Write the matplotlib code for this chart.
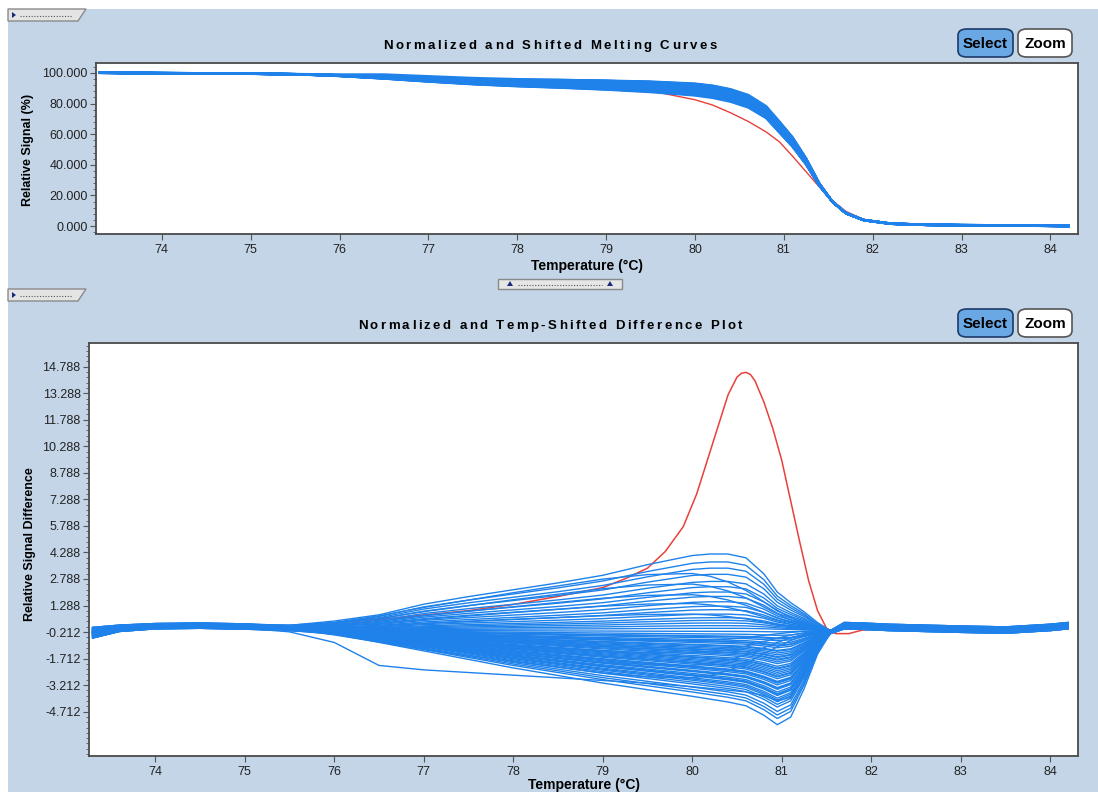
import numpy as np
import matplotlib
matplotlib.use("Agg")
import matplotlib.pyplot as plt
from matplotlib.patches import Rectangle, FancyBboxPatch, Polygon
from matplotlib.lines import Line2D
from matplotlib.ticker import FixedLocator, AutoMinorLocator, FormatStrFormatter
from matplotlib import font_manager as fm
from matplotlib.ft2font import FT2Font

# ---------------- data ----------------
temps = [73.3, 73.6, 74.0, 74.5, 75.0, 75.5, 76.0, 76.5, 77.0, 77.5, 78.0, 78.5,
         79.0, 79.5, 80.0, 80.2, 80.4, 80.6, 80.8, 80.95, 81.1, 81.25, 81.4,
         81.55, 81.7, 81.9, 82.2, 82.6, 83.0, 83.5, 84.0, 84.2]

# reference melting curve (top panel), % signal
base_melt = [100, 100, 100, 99.9, 99.6, 99.2, 98.3, 97.0, 95.6, 94.3, 93.4, 92.8,
             92.0, 91.0, 89.3, 87.8, 85.3, 81.3, 73.5, 63.0, 53.0, 41.0, 26.5,
             15.5, 8.5, 4.0, 1.6, 0.8, 0.5, 0.3, 0.2, 0.2]

# common difference baseline
diff_baseline = [-0.25, 0.0, 0.12, 0.15, 0.1, 0.02, -0.05, -0.1, -0.1, -0.1, -0.1, -0.1,
                 -0.1, -0.1, -0.1, -0.1, -0.1, -0.1, -0.1, -0.1, -0.1, -0.1, -0.12,
                 -0.2, 0.15, 0.12, 0.05, 0.0, -0.05, -0.1, 0.05, 0.15]

# normalised difference profiles (extreme = 1)
profile_up = [0, 0, 0, 0, 0, 0.02, 0.1, 0.2, 0.34, 0.44, 0.53, 0.62,
              0.72, 0.86, 0.98, 1.0, 1.0, 0.95, 0.74, 0.5, 0.36, 0.24, 0.1,
              0.0, 0, 0, 0, 0, 0, 0, 0, 0]
profile_down = [0, 0, 0, 0, 0, 0.01, 0.05, 0.13, 0.22, 0.31, 0.4, 0.48,
                0.56, 0.63, 0.7, 0.73, 0.76, 0.8, 0.9, 1.0, 0.92, 0.62, 0.25,
                0.0, 0, 0, 0, 0, 0, 0, 0, 0]
profile_early = [0, 0, 0, 0, 0, 0.02, 0.12, 0.25, 0.4, 0.53, 0.66, 0.78,
                 0.9, 0.98, 1.0, 0.95, 0.85, 0.7, 0.5, 0.35, 0.22, 0.12, 0.05,
                 0.0, 0, 0, 0, 0, 0, 0, 0, 0]
edge_weight = [1.0, 0.6, 0.5, 0.5, 0.5, 0.4, 0.2, 0, 0, 0, 0, 0,
               0, 0, 0, 0, 0, 0, 0, 0, 0, 0, 0.1,
               0.3, 0.6, 0.6, 0.6, 0.6, 0.6, 0.6, 0.6, 0.6]

# per-sample extreme difference values (peak for positive, trough for negative)
sample_peaks = [4.3, 3.85, 3.5, 3.15, 2.75, 2.45, 2.15, 1.9, 1.6, 1.35,
                1.15, 0.9, 0.7, 0.55, 0.4, 0.25, 0.1,
                -0.1, -0.3, -0.45, -0.6, -0.75, -0.9, -1.0, -1.15, -1.3, -1.4,
                -1.55, -1.65, -1.8, -1.9, -2.05, -2.15, -2.3, -2.4, -2.5, -2.65,
                -2.75, -2.9, -3.0, -3.1, -3.25, -3.35, -3.5, -3.6, -3.7, -3.85,
                -3.95, -4.05, -4.2, -4.35, -4.6, -4.8, -5.0, -5.35,
                -1.2, -1.7, -2.2, -2.6, -2.95, -3.3, -3.65, -0.5, -0.85, -1.5]
sample_edge_offsets = [0.15, -0.2, 0.05, 0.25, -0.1, 0.0, -0.3, 0.1, 0.2, -0.05,
                       -0.15, 0.3, 0.05, -0.25, 0.1, -0.1, 0.2, 0.0, -0.2, 0.15,
                       -0.05, 0.25, -0.3, 0.1, 0.05, -0.15, 0.2, -0.1, 0.0, 0.3,
                       -0.2, 0.1, -0.05, 0.15, -0.25, 0.05, 0.2, -0.1, 0.25, -0.3,
                       0.0, 0.1, -0.15, 0.2, -0.05, 0.3, -0.2, 0.05, 0.15, -0.1,
                       0.0, -0.25, 0.1, 0.2, -0.05, 0.1, -0.2, 0.25, -0.1, 0.05,
                       -0.3, 0.15, 0.0, -0.15, 0.2]
# samples whose difference peaks early (~79.8 C)
early_peaks = [3.2, 2.6, 2.0, 1.5, 0.9, -0.6, -1.3, -2.0, -2.7]

# one atypical blue sample
outlier_diff = [-0.1, 0.05, 0.15, 0.1, 0.0, -0.2, -0.8, -2.1, -2.35, -2.5, -2.65, -2.8,
                -2.95, -3.1, -3.3, -3.4, -3.5, -3.6, -3.8, -4.1, -3.9, -2.6, -1.0,
                -0.2, 0.15, 0.1, 0.0, 0.0, -0.05, -0.1, 0.05, 0.15]

# highlighted (red) sample
red_temps = [73.3, 74.0, 75.0, 75.5, 76.0, 76.5, 77.0, 77.5, 78.0, 78.5, 79.0, 79.25,
             79.5, 79.7, 79.9, 80.05, 80.2, 80.3, 80.4, 80.5, 80.55, 80.6, 80.65,
             80.7, 80.8, 80.9, 81.0, 81.1, 81.2, 81.3, 81.4, 81.5, 81.6, 81.75,
             81.9, 82.2, 83.0, 84.2]
red_diff = [-0.2, 0.1, 0.05, 0.1, 0.3, 0.5, 0.75, 1.0, 1.35, 1.8, 2.3, 2.8,
            3.4, 4.35, 5.75, 7.6, 10.0, 11.6, 13.2, 14.2, 14.42, 14.47, 14.35,
            14.0, 12.8, 11.3, 9.5, 7.2, 4.9, 2.7, 1.0, 0.0, -0.3, -0.3,
            -0.1, 0.0, 0.0, 0.0]
red_melt = [100, 100, 100, 99.9, 99.6, 99.1, 98.0, 96.4, 94.7, 93.0, 91.8, 90.8,
            89.9, 88.3, 82.5, 79.0, 74.0, 68.3, 61.5, 55.0, 45.5, 35.5, 25.5,
            16.5, 9.5, 4.3, 1.7, 0.8, 0.5, 0.3, 0.2, 0.2]

x_ticks = [74, 75, 76, 77, 78, 79, 80, 81, 82, 83, 84]
top_y_ticks = [0, 20, 40, 60, 80, 100]
bottom_y_ticks = [-4.712, -3.212, -1.712, -0.212, 1.288, 2.788, 4.288, 5.788,
                  7.288, 8.788, 10.288, 11.788, 13.288, 14.788]

# ---------------- styling ----------------
W, H, DPI = 1098, 792, 100
BG = "#C3D5E7"
BLUE = "#1f82ea"
RED = "#e8403a"
FONT = "Liberation Sans"

plt.rcParams["font.family"] = [FONT, "DejaVu Sans"]

fig = plt.figure(figsize=(W / DPI, H / DPI), dpi=DPI, facecolor="white")


def fx(x):
    return x / W


def fy(y):
    return 1 - y / H


fig.add_artist(Rectangle((fx(8), 0), 1 - fx(8), fy(9), transform=fig.transFigure,
                         facecolor=BG, edgecolor="none", zorder=-10))


def spaced_text(xc, y, s, size, target_w, weight="bold"):
    prop = fm.FontProperties(family=FONT, weight=weight, size=size)
    f = FT2Font(fm.findfont(prop))
    f.set_size(size, DPI)
    adv = [f.load_char(ord(ch)).linearHoriAdvance / 65536.0 for ch in s]
    sp = (target_w - sum(adv)) / (len(s) - 1)
    x = xc - target_w / 2
    for ch, a in zip(s, adv):
        if ch != " ":
            fig.text(fx(x), fy(y), ch, ha="left", va="center", fontproperties=prop,
                     color="black")
        x += a + sp


def button(x0, x1, y0, y1, label, face, edge):
    fig.add_artist(FancyBboxPatch((fx(x0), fy(y1)), fx(x1) - fx(x0), fy(y0) - fy(y1),
                                  boxstyle="round,pad=0,rounding_size=0.008",
                                  transform=fig.transFigure, facecolor=face,
                                  edgecolor=edge, linewidth=1.2, zorder=5))
    fig.text(fx((x0 + x1) / 2), fy((y0 + y1) / 2 + 1), label, ha="center", va="center",
             fontsize=11, fontweight="bold", color="black", zorder=6)


def tab(y0, y1):
    fig.add_artist(Polygon([(fx(8), fy(y0)), (fx(86), fy(y0)), (fx(78), fy(y1)),
                            (fx(8), fy(y1))], closed=True, transform=fig.transFigure,
                           facecolor="#E4E4E4", edgecolor="#8a8a8a", linewidth=1.0))
    ym = (y0 + y1) / 2
    fig.add_artist(Polygon([(fx(12), fy(ym - 3)), (fx(12), fy(ym + 3)), (fx(16), fy(ym))],
                           closed=True, transform=fig.transFigure, facecolor="#1a2a7a",
                           edgecolor="none"))
    fig.add_artist(Line2D([fx(20), fx(72)], [fy(ym + 1), fy(ym + 1)],
                          transform=fig.transFigure, color="#555555", linewidth=0.8,
                          linestyle=(0, (1, 1.5))))


def slider(x0, x1, y0, y1):
    fig.add_artist(Rectangle((fx(x0), fy(y1)), fx(x1) - fx(x0), fy(y0) - fy(y1),
                             transform=fig.transFigure, facecolor="#E6E6E6",
                             edgecolor="#8a8a8a", linewidth=1.0))
    ym = (y0 + y1) / 2
    for xt in (x0 + 12, x1 - 12):
        fig.add_artist(Polygon([(fx(xt - 3), fy(ym + 2)), (fx(xt + 3), fy(ym + 2)),
                                (fx(xt), fy(ym - 3))], closed=True,
                               transform=fig.transFigure, facecolor="#1a2a7a",
                               edgecolor="none"))
    fig.add_artist(Line2D([fx(x0 + 20), fx(x1 - 20)], [fy(ym + 1), fy(ym + 1)],
                          transform=fig.transFigure, color="#555555", linewidth=0.8,
                          linestyle=(0, (1, 1.5))))


def style_axes(ax):
    ax.set_facecolor("white")
    for s in ax.spines.values():
        s.set_color("#4a4a4a")
        s.set_linewidth(1.3)
    ax.tick_params(axis="both", which="major", direction="out", length=4, width=0.8,
                   color="#555555", labelsize=9, labelcolor="#222222", pad=2)
    ax.tick_params(axis="y", which="minor", direction="out", length=2, width=0.6,
                   color="#555555")
    ax.tick_params(axis="x", which="major", pad=3)
    ax.set_xlim(73.26, 84.31)
    ax.xaxis.set_major_locator(FixedLocator(x_ticks))
    ax.yaxis.set_minor_locator(AutoMinorLocator(5))
    ax.yaxis.set_major_formatter(FormatStrFormatter("%.3f"))


T = np.array(temps)
base = np.array(base_melt)
bl = np.array(diff_baseline)
up = np.array(profile_up)
down = np.array(profile_down)
early = np.array(profile_early)
ew = np.array(edge_weight)

# ---------------- top panel ----------------
ax1 = fig.add_axes([fx(96), fy(234), fx(1078) - fx(96), fy(63) - fy(234)])
style_axes(ax1)
ax1.set_ylim(-5.2, 106.5)
ax1.yaxis.set_major_locator(FixedLocator(top_y_ticks))

# ---------------- bottom panel ----------------
ax2 = fig.add_axes([fx(89), fy(756), fx(1078) - fx(89), fy(343) - fy(756)])
style_axes(ax2)
ax2.set_ylim(-7.22, 16.13)
ax2.yaxis.set_major_locator(FixedLocator(bottom_y_ticks))

ax1.plot(T, red_melt, color=RED, lw=1.0, zorder=1)
ax2.plot(red_temps, red_diff, color=RED, lw=1.1, zorder=1)

curves = []
for peak, off in zip(sample_peaks, sample_edge_offsets):
    prof = up if peak > 0 else down
    curves.append(bl + peak * prof + off * ew)
for peak in early_peaks:
    curves.append(bl + peak * early)
curves.append(np.array(outlier_diff))

for d in curves:
    ax2.plot(T, d, color=BLUE, lw=1.0, zorder=2)
    ax1.plot(T, base - d, color=BLUE, lw=1.5, zorder=2)

# ---------------- labels & decorations ----------------
spaced_text(550, 46, "Normalized and Shifted Melting Curves", 9.5, 334)
spaced_text(550, 326, "Normalized and Temp-Shifted Difference Plot", 9.5, 384)

fig.text(fx(28), fy(150), "Relative Signal (%)", rotation=90, ha="center", va="center",
         fontsize=9, fontweight="bold")
fig.text(fx(30), fy(544), "Relative Signal Difference", rotation=90, ha="center",
         va="center", fontsize=9, fontweight="bold")
fig.text(fx(587), fy(266), "Temperature (\u00b0C)", ha="center", va="center",
         fontsize=10, fontweight="bold")
fig.text(fx(584), fy(785), "Temperature (\u00b0C)", ha="center", va="center",
         fontsize=10, fontweight="bold")

button(958, 1013, 29, 57, "Select", "#6aa8e4", "#1c3a6a")
button(1018, 1072, 29, 57, "Zoom", "white", "#555555")
button(958, 1013, 309, 337, "Select", "#6aa8e4", "#1c3a6a")
button(1018, 1072, 309, 337, "Zoom", "white", "#555555")

tab(9, 21)
tab(289, 301)
slider(498, 622, 279, 289)

fig.savefig("out.png", dpi=DPI, facecolor=fig.get_facecolor())
